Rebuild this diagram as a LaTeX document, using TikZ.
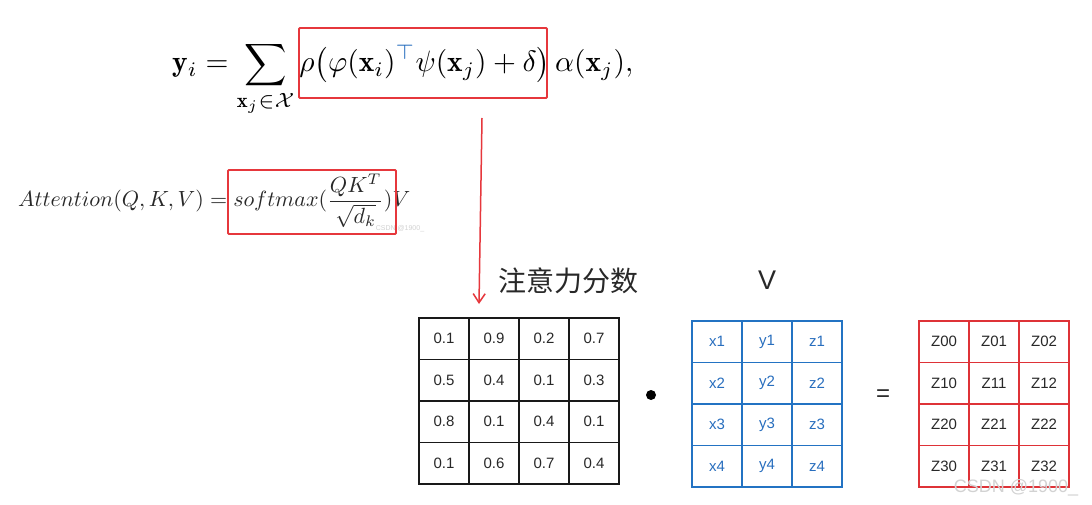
\documentclass[tikz,border=0pt]{standalone}
\usepackage{fontspec}
\usepackage{amsmath}
\usepackage{graphicx}
\setsansfont{Liberation Sans}
\newfontfamily\cjk{Noto Sans CJK SC}
\usetikzlibrary{arrows.meta}
\definecolor{boxred}{RGB}{230,55,60}
\definecolor{gridblue}{RGB}{35,115,195}
\definecolor{txtblue}{RGB}{40,110,190}
\definecolor{gridred}{RGB}{222,50,55}
\definecolor{ink}{RGB}{40,40,40}
\tikzset{
  redbox/.style={draw=boxred, line width=1.8pt, inner sep=0pt, rounded corners=1pt},
  redarrow/.style={draw=boxred, line width=1.5pt, -{Straight Barb[length=9pt,width=12pt,line width=1.5pt]}},
  kcell/.style={draw=black!90, line width=1.8pt, minimum width=50pt, minimum height=41.5pt, inner sep=0pt, text=ink, font=\sffamily\fontsize{15}{17}\selectfont},
  vcell/.style={draw=gridblue, line width=1.8pt, minimum width=50pt, minimum height=41.5pt, inner sep=0pt, text=txtblue, font=\sffamily\fontsize{15}{17}\selectfont},
  zcell/.style={draw=gridred, line width=1.8pt, minimum width=50pt, minimum height=41.5pt, inner sep=0pt, text=ink, font=\sffamily\fontsize{15}{17}\selectfont},
  wmark/.style={text=gray!35}
}
\begin{document}
\begin{tikzpicture}[x=1pt,y=-1pt]
\useasboundingbox[fill=white] (0,0) rectangle (1092,505);

% formula 1
\node[anchor=base west, inner sep=0pt] (f1) at (172,72)
  {\resizebox{461pt}{!}{$\displaystyle \mathbf{y}_i=\sum_{\mathbf{x}_j\in\mathcal{X}}\rho\bigl(\varphi(\mathbf{x}_i)^{\color{txtblue}\top}\psi(\mathbf{x}_j)+\delta\bigr)\,\alpha(\mathbf{x}_j),$}};
\node[redbox, minimum width=248pt, minimum height=70pt] (b1) at (423,63) {};

% formula 2
\node[anchor=base west, inner sep=0pt, text=ink] (f2) at (18,207)
  {\resizebox{392pt}{!}{$\displaystyle Attention(Q,K,V)=softmax(\frac{QK^T}{\sqrt{d_k}})V$}};
\node[redbox, minimum width=168pt, minimum height=64pt] (b2) at (312,202) {};
\node[wmark, font=\sffamily\fontsize{7}{8}\selectfont] (w1) at (400,229) {CSDN @1900\_};

% arrow
\coordinate (a1) at (482,118);
\coordinate (a2) at (479,304);
\draw[redarrow] (a1) -- (a2);

% labels
\node[text=ink, font=\cjk\fontsize{28}{30}\selectfont] (lab) at (568,281) {注意力分数};
\node[text=ink, font=\sffamily\fontsize{27}{30}\selectfont] (vl) at (767,280) {V};

% attention matrix
\foreach \v [count=\i from 0] in {0.1,0.9,0.2,0.7,0.5,0.4,0.1,0.3,0.8,0.1,0.4,0.1,0.1,0.6,0.7,0.4} {
  \pgfmathtruncatemacro\r{\i/4}
  \pgfmathtruncatemacro\c{mod(\i,4)}
  \node[kcell] (k-\r-\c) at ({444+50*\c},{338.75+41.5*\r}) {\v};
}

% dot
\fill[black] (651,395) circle (5pt);

% V matrix
\foreach \r in {0,...,3} {
  \foreach \c/\l in {0/x,1/y,2/z} {
    \pgfmathtruncatemacro\n{\r+1}
    \node[vcell] (v-\r-\c) at ({717+50*\c},{341.75+41.5*\r}) {\l\n};
  }
}

% equals
\node[text=ink, font=\sffamily\fontsize{24}{26}\selectfont] (eq) at (883,396) {=};

% result matrix
\foreach \r in {0,...,3} {
  \foreach \c in {0,1,2} {
    \node[zcell] (z-\r-\c) at ({944+50*\c},{341.75+41.5*\r}) {Z\r\c};
  }
}

\node[wmark, font=\sffamily\fontsize{18}{20}\selectfont] (w2) at (1016,488) {CSDN @1900\_};
\end{tikzpicture}
\end{document}
